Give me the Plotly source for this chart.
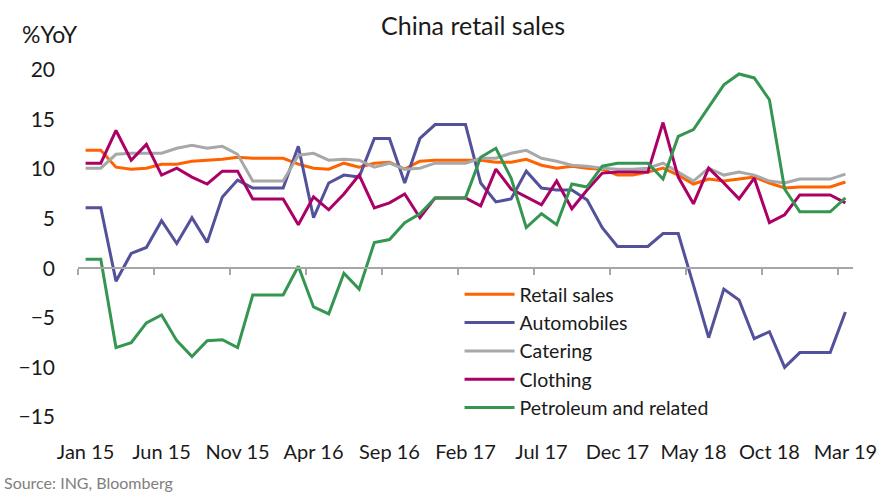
import plotly.graph_objects as go

months = []
for yr in [15, 16, 17, 18, 19]:
    for m in ["Jan", "Feb", "Mar", "Apr", "May", "Jun", "Jul", "Aug", "Sep", "Oct", "Nov", "Dec"]:
        months.append(f"{m} {yr}")
months = months[:51]  # Jan 15 .. Mar 19

tick_labels = ["Jan 15", "Jun 15", "Nov 15", "Apr 16", "Sep 16", "Feb 17",
               "Jul 17", "Dec 17", "May 18", "Oct 18", "Mar 19"]

retail_sales = [11.9, 11.9, 10.2, 10.0, 10.1, 10.5, 10.5, 10.8, 10.9, 11.0,
                11.2, 11.1, 11.1, 11.1, 10.5, 10.1, 10.0, 10.6, 10.2, 10.6,
                10.7, 10.0, 10.8, 10.9, 10.9, 10.9, 10.9, 10.7, 10.7, 11.0,
                10.4, 10.1, 10.3, 10.1, 10.0, 9.4, 9.4, 9.7, 10.1, 9.4,
                8.5, 9.0, 8.8, 9.0, 9.2, 8.6, 8.1, 8.2, 8.2, 8.2, 8.7]
automobiles = [6.1, 6.1, -1.3, 1.5, 2.1, 4.8, 2.5, 5.1, 2.6, 7.2,
               8.9, 8.1, 8.1, 8.1, 12.3, 5.1, 8.6, 9.4, 9.2, 13.1,
               13.1, 8.6, 13.1, 14.5, 14.5, 14.5, 8.6, 6.7, 7.0, 9.8,
               8.1, 7.9, 7.9, 6.9, 4.1, 2.2, 2.2, 2.2, 3.5, 3.5,
               -1.7, -7.0, -2.1, -3.2, -7.1, -6.4, -10.0, -8.5, -8.5, -8.5, -4.4]
catering = [10.1, 10.1, 11.5, 11.6, 11.6, 11.6, 12.1, 12.4, 12.1, 12.3,
            11.5, 8.8, 8.8, 8.8, 11.4, 11.6, 10.9, 11.0, 10.9, 10.2,
            10.6, 10.0, 10.1, 10.6, 10.6, 10.6, 11.1, 11.1, 11.6, 11.9,
            11.1, 10.8, 10.4, 10.3, 10.1, 10.0, 10.0, 10.1, 10.6, 9.7,
            8.8, 10.1, 9.4, 9.7, 9.4, 8.8, 8.6, 9.0, 9.0, 9.0, 9.5]
clothing = [10.6, 10.6, 13.9, 10.9, 12.5, 9.4, 10.1, 9.2, 8.5, 9.8,
            9.8, 7.0, 7.0, 7.0, 4.4, 7.2, 5.9, 7.5, 9.4, 6.1,
            6.6, 7.5, 5.1, 7.1, 7.1, 7.1, 6.3, 10.0, 8.0, 7.2,
            6.4, 8.8, 6.0, 7.9, 9.6, 9.7, 9.7, 9.7, 14.7, 9.2,
            6.5, 10.1, 8.6, 7.0, 9.1, 4.6, 5.4, 7.4, 7.4, 7.4, 6.6]
petroleum = [0.9, 0.9, -8.0, -7.5, -5.5, -4.7, -7.3, -8.9, -7.3, -7.2,
             -8.0, -2.7, -2.7, -2.7, 0.2, -3.9, -4.6, -0.5, -2.1, 2.6,
             2.9, 4.6, 5.5, 7.1, 7.1, 7.1, 11.2, 12.1, 9.1, 4.1,
             5.5, 4.4, 8.5, 8.2, 10.3, 10.6, 10.6, 10.6, 9.0, 13.3,
             14.0, 16.3, 18.5, 19.6, 19.2, 17.0, 8.0, 5.7, 5.7, 5.7, 7.1]

series = [
    ("Retail sales", retail_sales, "#FF6200"),
    ("Automobiles", automobiles, "#525199"),
    ("Catering", catering, "#A8A8A8"),
    ("Clothing", clothing, "#AB0066"),
    ("Petroleum and related", petroleum, "#349651"),
]

y_min, y_max = -15, 20
FONT = "Lato"
TXT = "#1a1a1a"

fig = go.Figure()
for name, vals, col in series:
    fig.add_trace(go.Scatter(x=months, y=vals, mode="lines", name=name,
                             line=dict(color=col, width=3)))

n = len(months)
W, H = 889, 493
ml, mr, mt, mb = 78, 29, 70, 76
pw, ph = W - ml - mr, H - mt - mb

fig.update_layout(
    width=W, height=H,
    margin=dict(l=ml, r=mr, t=mt, b=mb),
    paper_bgcolor="white", plot_bgcolor="white",
    font=dict(family=FONT, color=TXT),
    title=dict(text="China retail sales", x=473 / W, xref="container",
               y=1 - 26 / H, yref="container", xanchor="center", yanchor="middle",
               font=dict(size=25, family=FONT, color=TXT)),
    xaxis=dict(type="category", categoryorder="array", categoryarray=months,
               range=[-0.5, n - 0.5], tickmode="array",
               tickvals=[months[i] for i in range(0, n, 5)], ticktext=tick_labels,
               ticks="", showline=False, showgrid=False, zeroline=False,
               tickfont=dict(size=20, family=FONT, color=TXT),
               ticklabelstandoff=21),
    xaxis2=dict(overlaying="x", anchor="free",
                position=(0 - y_min) / (y_max - y_min),
                range=[-0.5, n - 0.5], tickmode="array",
                tickvals=[i - 0.5 for i in range(0, n, 5)],
                ticks="outside", ticklen=6, tickwidth=1.5, tickcolor="#A6A6A6",
                showline=True, linecolor="#A6A6A6", linewidth=1.5,
                showticklabels=False, showgrid=False, zeroline=False),
    yaxis=dict(range=[y_min, y_max], tickmode="array",
               tickvals=list(range(y_min, y_max + 1, 5)),
               showgrid=False, zeroline=False, showline=False, ticks="",
               tickfont=dict(size=21, family=FONT, color=TXT),
               ticklabelstandoff=22),
    legend=dict(x=(463 - ml) / pw, y=(H - mb - 275) / ph, xanchor="left", yanchor="top",
                bgcolor="rgba(0,0,0,0)", font=dict(size=19.5, family=FONT, color=TXT),
                itemwidth=50, tracegroupgap=0),
    showlegend=True,
)

# empty helper trace so the zero-line axis (xaxis2) is drawn
fig.add_trace(go.Scatter(x=[None], y=[None], xaxis="x2", showlegend=False, hoverinfo="skip"))

fig.add_annotation(text="%YoY", xref="paper", yref="paper",
                   x=(19 - ml) / pw, y=(H - mb - 34) / ph, xanchor="left", yanchor="middle",
                   showarrow=False, font=dict(size=23, family=FONT, color=TXT))
fig.add_annotation(text="Source: ING, Bloomberg", xref="paper", yref="paper",
                   x=(1 - ml) / pw, y=(H - mb - 482) / ph, xanchor="left", yanchor="middle",
                   showarrow=False, font=dict(size=16, family=FONT, color="#808080"))

fig.write_html("out.html")
